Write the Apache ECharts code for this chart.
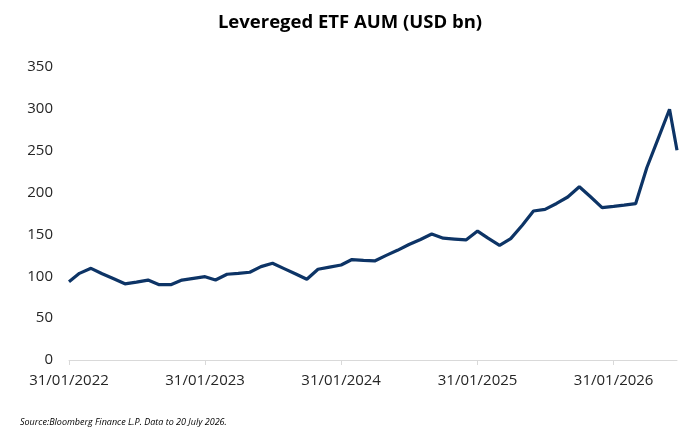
<!DOCTYPE html>
<html>
<head>
<meta charset="utf-8">
<script src="https://cdn.jsdelivr.net/npm/echarts@6/dist/echarts.min.js"></script>
<style>
  html, body { margin: 0; padding: 0; background: #fff; }
  #chart { width: 700px; height: 435px; }
</style>
</head>
<body>
<div id="chart"></div>
<script>
// month-end dates, last point is the partial month (data to 20 July 2026)
const dates = [
  '2022-01-31', '2022-02-28', '2022-03-31', '2022-04-30', '2022-05-31', '2022-06-30',
  '2022-07-31', '2022-08-31', '2022-09-30', '2022-10-31', '2022-11-30', '2022-12-31',
  '2023-01-31', '2023-02-28', '2023-03-31', '2023-04-30', '2023-05-31', '2023-06-30',
  '2023-07-31', '2023-08-31', '2023-09-30', '2023-10-31', '2023-11-30', '2023-12-31',
  '2024-01-31', '2024-02-29', '2024-03-31', '2024-04-30', '2024-05-31', '2024-06-30',
  '2024-07-31', '2024-08-31', '2024-09-30', '2024-10-31', '2024-11-30', '2024-12-31',
  '2025-01-31', '2025-02-28', '2025-03-31', '2025-04-30', '2025-05-31', '2025-06-30',
  '2025-07-31', '2025-08-31', '2025-09-30', '2025-10-31', '2025-11-30', '2025-12-31',
  '2026-01-31', '2026-02-28', '2026-03-31', '2026-04-30', '2026-05-31', '2026-06-30',
  '2026-07-20'
];
// AUM, USD bn
const aum = [
  93.5, 103.5, 109.5, 103, 97, 91,
  93, 95.5, 90, 90, 95.5, 97.5,
  99.5, 95.5, 102.4, 103.5, 104.8, 111.5,
  115.5, 109.2, 103, 96.4, 108.4, 111,
  113.5, 120, 119, 118.3, 125, 131,
  138, 144, 150.5, 145.5, 144.5, 143.4,
  154, 145.5, 137, 145, 161, 178,
  180, 187, 194.7, 207, 195, 182,
  183.5, 185, 186.7, 229.7, 265, 299.5,
  250.5
];
const xTicks = ['2022-01-31', '2023-01-31', '2024-01-31', '2025-01-31', '2026-01-31'];
const yMin = 0, yMax = 350, yStep = 50;

const FONT = '"Open Sans", sans-serif';
const toMs = d => Date.parse(d + 'T00:00:00Z');
const pad = n => (n < 10 ? '0' : '') + n;
const fmtDate = v => {
  const d = new Date(v);
  return pad(d.getUTCDate()) + '/' + pad(d.getUTCMonth() + 1) + '/' + d.getUTCFullYear();
};

const chart = echarts.init(document.getElementById('chart'), null, { renderer: 'canvas' });
const tickMs = xTicks.map(toMs);

chart.setOption({
  animation: false,
  backgroundColor: '#fff',
  title: [
    {
      text: 'Levereged ETF AUM (USD bn)',
      left: 'center',
      top: 8,
      textStyle: { fontFamily: FONT, fontSize: 18.5, fontWeight: 'bold', color: '#000' }
    },
    {
      text: 'Source:Bloomberg Finance L.P. Data to 20 July 2026.',
      left: 15,
      top: 413,
      textStyle: { fontFamily: FONT, fontSize: 9, fontStyle: 'italic', fontWeight: 'normal', color: '#000' }
    }
  ],
  grid: { left: 69, right: 23, top: 67, bottom: 75, containLabel: false },
  xAxis: {
    type: 'value',
    min: toMs(dates[0]),
    max: toMs(dates[dates.length - 1]),
    axisLine: { show: true, lineStyle: { color: '#d9d9d9', width: 1 } },
    axisTick: {
      show: true,
      length: 5,
      lineStyle: { color: '#d9d9d9' },
      customValues: tickMs
    },
    axisLabel: {
      fontFamily: FONT,
      fontSize: 15,
      color: '#262626',
      margin: 13,
      customValues: tickMs,
      formatter: fmtDate
    },
    splitLine: { show: false }
  },
  yAxis: {
    type: 'value',
    min: yMin,
    max: yMax,
    interval: yStep,
    axisLine: { show: false },
    axisTick: { show: false },
    splitLine: { show: false },
    axisLabel: { fontFamily: FONT, fontSize: 15, color: '#262626', margin: 16 }
  },
  series: [
    {
      type: 'line',
      data: dates.map((d, i) => [toMs(d), aum[i]]),
      showSymbol: false,
      symbol: 'none',
      lineStyle: { color: '#0d3466', width: 3.2 },
      itemStyle: { color: '#0d3466' }
    }
  ]
});
</script>
</body>
</html>
